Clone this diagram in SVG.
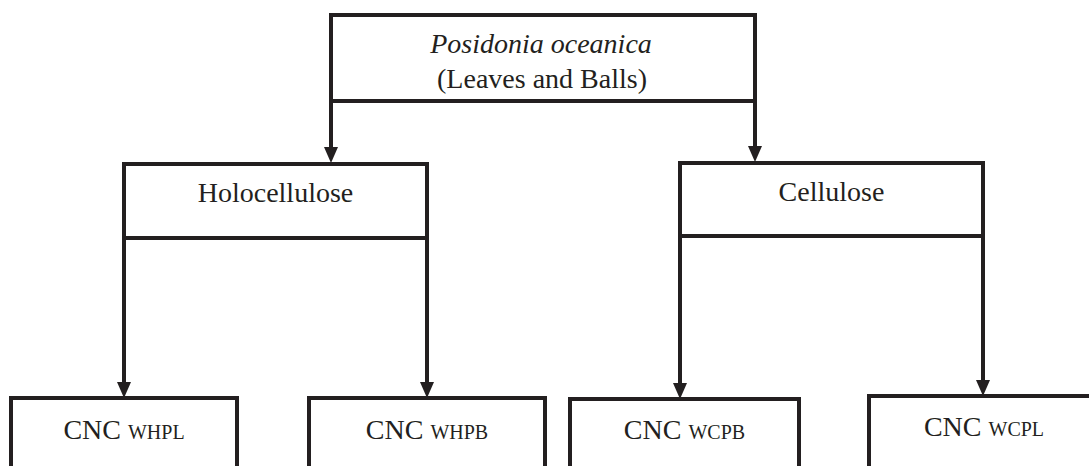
<svg xmlns="http://www.w3.org/2000/svg" width="1089" height="466" viewBox="0 0 1089 466">
<style>
.box{fill:#fff;stroke:#231f20;stroke-width:4}
.conn{fill:none;stroke:#231f20;stroke-width:4}
.t{font-family:"Liberation Serif","Times New Roman",serif;font-size:28px;fill:#231f20;text-anchor:middle}
.s{font-size:20px}
</style>
<defs>
<marker id="arr" markerUnits="userSpaceOnUse" markerWidth="16" markerHeight="14" refX="0" refY="7" orient="auto" viewBox="0 0 16 14">
<path d="M0,0 L16,7 L0,14 z" fill="#231f20"/>
</marker>
</defs>
<rect width="1089" height="466" fill="#fff"/>
<g id="connectors">
<path class="conn" d="M331,101 V147" marker-end="url(#arr)"/>
<path class="conn" d="M755,101 V146" marker-end="url(#arr)"/>
<path class="conn" d="M124,238 V382" marker-end="url(#arr)"/>
<path class="conn" d="M427,238 V382" marker-end="url(#arr)"/>
<path class="conn" d="M680,236 V383" marker-end="url(#arr)"/>
<path class="conn" d="M983,236 V380" marker-end="url(#arr)"/>
</g>
<g id="root">
<rect class="box" x="331" y="15" width="424" height="86"/>
<text class="t" x="541" y="53" font-style="italic">Posidonia oceanica</text>
<text class="t" x="542" y="88">(Leaves and Balls)</text>
</g>
<g id="holocellulose">
<rect class="box" x="124" y="164" width="303" height="74"/>
<text class="t" x="275.5" y="202">Holocellulose</text>
</g>
<g id="cellulose">
<rect class="box" x="680" y="163" width="303" height="73"/>
<text class="t" x="831.5" y="201">Cellulose</text>
</g>
<g id="whpl">
<rect class="box" x="11" y="398" width="226" height="90"/>
<text class="t" x="124" y="439">CNC <tspan class="s">WHPL</tspan></text>
</g>
<g id="whpb">
<rect class="box" x="309" y="398" width="236" height="90"/>
<text class="t" x="427" y="439">CNC <tspan class="s">WHPB</tspan></text>
</g>
<g id="wcpb">
<rect class="box" x="570" y="399" width="229" height="90"/>
<text class="t" x="684.5" y="439">CNC <tspan class="s">WCPB</tspan></text>
</g>
<g id="wcpl">
<rect class="box" x="869" y="396" width="240" height="90"/>
<text class="t" x="984" y="436">CNC <tspan class="s">WCPL</tspan></text>
</g>
</svg>
